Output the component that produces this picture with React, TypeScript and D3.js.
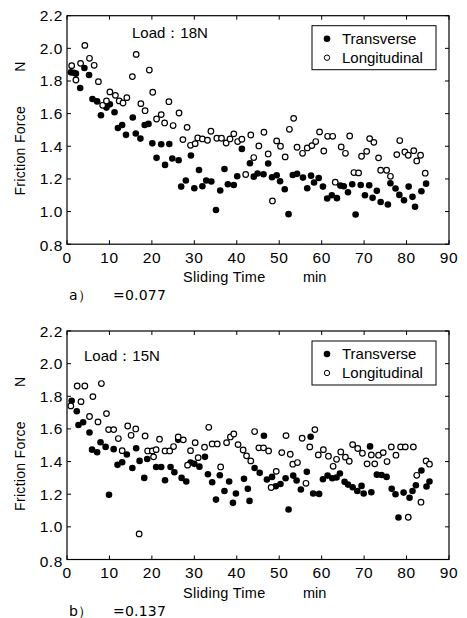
import * as d3 from 'd3';

// Sliding time (min) and friction force (N)
const load18Transverse: [number, number][] = [
  [0.9, 1.853], [1.6, 1.85], [2.1, 1.845], [3.1, 1.757], [4.1, 1.88], [5.2, 1.837], [6.0, 1.69], [7.1, 1.675],
  [8.0, 1.59], [9.3, 1.637], [10.1, 1.657], [11.2, 1.608], [12.0, 1.512], [13.0, 1.53], [13.9, 1.47], [15.5, 1.576],
  [16.2, 1.478], [17.3, 1.447], [18.3, 1.53], [19.2, 1.537], [20.1, 1.418], [21.1, 1.329], [22.2, 1.412], [23.1, 1.286],
  [24.1, 1.414], [24.8, 1.325], [26.3, 1.314], [26.9, 1.153], [28.0, 1.19], [29.2, 1.343], [30.0, 1.143], [31.1, 1.255],
  [31.9, 1.155], [32.8, 1.19], [34.0, 1.184], [35.1, 1.01], [36.1, 1.129], [37.1, 1.261], [37.9, 1.167], [39.3, 1.163],
  [40.1, 1.216], [41.2, 1.384], [43.1, 1.296], [44.0, 1.214], [44.9, 1.233], [46.3, 1.229], [47.4, 1.294], [48.3, 1.21],
  [49.4, 1.222], [50.2, 1.186], [51.3, 1.137], [52.2, 0.984], [53.2, 1.224], [54.2, 1.231], [55.6, 1.208], [56.6, 1.143],
  [57.5, 1.22], [58.2, 1.178], [59.3, 1.206], [60.3, 1.153], [61.3, 1.08], [62.4, 1.1], [63.6, 1.082], [64.4, 1.159],
  [65.2, 1.155], [66.2, 1.118], [67.2, 1.167], [68.0, 0.982], [69.2, 1.163], [70.2, 1.1], [71.2, 1.161], [72.0, 1.084],
  [73.0, 1.127], [73.9, 1.059], [75.6, 1.043], [76.2, 1.173], [77.4, 1.141], [78.3, 1.102], [79.4, 1.069], [80.5, 1.153],
  [81.4, 1.09], [82.0, 1.029], [83.5, 1.124], [84.6, 1.171],
];

const load18Longitudinal: [number, number][] = [
  [1.1, 1.894], [2.1, 1.806], [3.2, 1.908], [4.2, 2.018], [5.3, 1.939], [6.4, 1.896], [7.4, 1.796], [8.4, 1.651],
  [9.3, 1.678], [10.1, 1.733], [11.4, 1.712], [12.3, 1.678], [13.2, 1.665], [14.1, 1.698], [15.4, 1.827], [16.3, 1.963],
  [17.4, 1.661], [18.4, 1.618], [19.4, 1.867], [20.2, 1.731], [21.1, 1.567], [22.2, 1.594], [23.0, 1.543], [24.0, 1.673],
  [25.0, 1.527], [26.4, 1.604], [27.3, 1.441], [28.3, 1.516], [29.1, 1.406], [30.2, 1.416], [30.8, 1.451], [31.9, 1.445],
  [33.1, 1.437], [33.9, 1.492], [35.3, 1.449], [36.4, 1.449], [37.5, 1.42], [38.4, 1.445], [39.3, 1.476], [40.2, 1.429],
  [41.2, 1.443], [42.1, 1.227], [43.3, 1.469], [44.0, 1.331], [45.2, 1.402], [46.4, 1.486], [47.4, 1.353], [48.4, 1.065],
  [49.4, 1.433], [50.3, 1.4], [51.4, 1.335], [52.4, 1.504], [53.4, 1.571], [54.2, 1.394], [55.5, 1.357], [56.6, 1.39],
  [57.7, 1.404], [58.6, 1.429], [59.5, 1.488], [60.5, 1.371], [61.4, 1.461], [62.6, 1.461], [63.2, 1.18], [64.6, 1.396],
  [65.6, 1.357], [66.6, 1.463], [67.6, 1.239], [68.7, 1.237], [69.4, 1.339], [70.6, 1.369], [71.3, 1.447], [72.3, 1.424],
  [73.4, 1.329], [73.9, 1.253], [75.3, 1.253], [76.2, 1.216], [77.7, 1.349], [78.4, 1.435], [79.6, 1.365], [80.4, 1.345],
  [81.7, 1.373], [82.4, 1.31], [83.3, 1.345], [84.4, 1.235],
];

const load15Transverse: [number, number][] = [
  [1.1, 1.773], [2.3, 1.708], [2.7, 1.624], [3.8, 1.641], [5.3, 1.578], [5.9, 1.473], [7.1, 1.457], [7.9, 1.518],
  [9.1, 1.49], [9.9, 1.196], [11.0, 1.476], [11.9, 1.38], [13.0, 1.396], [14.1, 1.443], [15.4, 1.361], [16.3, 1.482],
  [17.1, 1.404], [18.2, 1.3], [18.9, 1.416], [20.1, 1.465], [21.0, 1.367], [22.2, 1.367], [23.1, 1.286], [24.4, 1.367],
  [25.3, 1.335], [26.2, 1.533], [27.0, 1.3], [28.1, 1.278], [29.1, 1.394], [30.0, 1.386], [31.2, 1.369], [32.5, 1.429],
  [33.2, 1.322], [34.2, 1.273], [35.1, 1.167], [36.0, 1.316], [37.1, 1.22], [38.2, 1.278], [39.1, 1.147], [39.8, 1.204],
  [41.7, 1.294], [42.6, 1.233], [43.0, 1.159], [44.2, 1.361], [45.4, 1.331], [46.4, 1.558], [47.1, 1.29], [48.3, 1.306],
  [49.2, 1.249], [50.3, 1.263], [51.5, 1.298], [52.2, 1.106], [53.3, 1.314], [54.1, 1.284], [55.1, 1.229], [56.5, 1.337],
  [57.4, 1.552], [58.0, 1.204], [59.4, 1.202], [60.3, 1.292], [61.4, 1.314], [62.5, 1.298], [63.5, 1.302], [64.3, 1.327],
  [65.4, 1.276], [66.2, 1.259], [67.3, 1.243], [68.4, 1.22], [69.4, 1.251], [69.9, 1.204], [71.4, 1.493], [71.7, 1.212],
  [73.0, 1.32], [74.1, 1.318], [75.3, 1.306], [76.5, 1.233], [77.4, 1.2], [78.1, 1.057], [79.3, 1.21], [80.7, 1.178],
  [81.4, 1.22], [82.2, 1.255], [83.5, 1.345], [84.7, 1.247], [85.4, 1.278],
];

const load15Longitudinal: [number, number][] = [
  [0.9, 1.741], [2.4, 1.863], [3.3, 1.767], [4.2, 1.863], [5.3, 1.676], [6.1, 1.798], [7.3, 1.643], [8.1, 1.878],
  [9.3, 1.694], [9.8, 1.596], [11.0, 1.596], [12.1, 1.541], [13.0, 1.467], [14.3, 1.618], [15.1, 1.561], [16.2, 1.6],
  [17.0, 0.957], [18.4, 1.557], [19.0, 1.465], [20.1, 1.465], [20.4, 1.429], [21.0, 1.473], [21.8, 1.537], [23.1, 1.465],
  [24.2, 1.465], [25.1, 1.492], [26.2, 1.551], [27.4, 1.533], [28.4, 1.378], [29.1, 1.467], [30.2, 1.516], [30.9, 1.424],
  [32.4, 1.488], [33.4, 1.61], [34.2, 1.508], [35.4, 1.508], [36.2, 1.367], [37.6, 1.516], [38.5, 1.551], [39.3, 1.569],
  [40.3, 1.504], [41.5, 1.471], [42.3, 1.435], [43.3, 1.404], [44.2, 1.584], [45.2, 1.484], [46.3, 1.484], [47.5, 1.465],
  [48.1, 1.241], [49.3, 1.34], [50.6, 1.455], [51.6, 1.559], [52.6, 1.445], [53.2, 1.384], [54.3, 1.394], [55.4, 1.543],
  [56.3, 1.267], [57.2, 1.49], [58.4, 1.596], [59.2, 1.441], [60.4, 1.473], [61.6, 1.433], [62.7, 1.371], [63.5, 1.414],
  [64.5, 1.459], [65.6, 1.427], [66.5, 1.402], [67.3, 1.504], [68.5, 1.48], [69.6, 1.451], [70.7, 1.386], [71.7, 1.441],
  [72.5, 1.386], [73.4, 1.439], [74.5, 1.455], [75.4, 1.4], [76.4, 1.49], [77.5, 1.439], [78.6, 1.49], [79.7, 1.49],
  [80.4, 1.059], [81.6, 1.49], [82.4, 1.316], [83.4, 1.151], [84.6, 1.404], [85.4, 1.384],
];

const xTicks = [0, 10, 20, 30, 40, 50, 60, 70, 80, 90];
const yTicks = [0.8, 1.0, 1.2, 1.4, 1.6, 1.8, 2.0, 2.2];
const seriesNames = ['Transverse', 'Longitudinal'];

const FONT = '"Liberation Sans", Arial, sans-serif';
const W = 467;
const H = 618;
const left = 67;
const right = 449;
const plotH = 228.5;
const R = 3.3;

type PanelProps = {
  top: number;
  filled: [number, number][];
  open: [number, number][];
  load: string;
  loadPos: [number, number];
  tag: string;
  coef: string;
};

const Panel = ({ top, filled, open, load, loadPos, tag, coef }: PanelProps) => {
  const bottom = top + plotH;
  const x = d3.scaleLinear().domain([0, 90]).range([left, right]);
  const y = d3.scaleLinear().domain([0.8, 2.2]).range([bottom, top]);
  const tk = 4;
  const legX = 312;
  const legY = top + 10;

  return (
    <g fontFamily={FONT} fill="#000">
      {/* ticks, inward on all sides */}
      {xTicks.map(t => (
        <g key={'xt' + t}>
          <line x1={x(t)} x2={x(t)} y1={bottom} y2={bottom - tk} stroke="#000" />
          <line x1={x(t)} x2={x(t)} y1={top} y2={top + tk} stroke="#000" />
          <text x={x(t)} y={bottom + 18.5} fontSize={15.5} textAnchor="middle" letterSpacing={0.6}>{t}</text>
        </g>
      ))}
      {yTicks.map(t => (
        <g key={'yt' + t}>
          <line x1={left} x2={left + tk} y1={y(t)} y2={y(t)} stroke="#000" />
          <line x1={right} x2={right - tk} y1={y(t)} y2={y(t)} stroke="#000" />
          <text x={left - 4} y={y(t) + (t === 0.8 ? 7 : 5.5)} fontSize={15.5} textAnchor="end" letterSpacing={0.6}>{t.toFixed(1)}</text>
        </g>
      ))}

      {filled.map(([t, f], i) => (
        <circle key={'f' + i} cx={x(t)} cy={y(f)} r={R} fill="#000" />
      ))}
      {open.map(([t, f], i) => (
        <circle key={'o' + i} cx={x(t)} cy={y(f)} r={R - 0.5} fill="#fff" stroke="#000" strokeWidth={1.2} />
      ))}

      <rect x={left} y={top} width={right - left} height={plotH} fill="none" stroke="#000" strokeWidth={1.2} />

      <text x={loadPos[0]} y={loadPos[1]} fontSize={15}>{load}</text>

      {/* legend */}
      <rect x={legX} y={legY} width={124} height={44} fill="#fff" stroke="#000" strokeWidth={1} />
      <circle cx={legX + 15} cy={legY + 13} r={R} fill="#000" />
      <circle cx={legX + 15} cy={legY + 32} r={R - 0.6} fill="#fff" stroke="#000" strokeWidth={1} />
      <text x={legX + 30} y={legY + 18} fontSize={15}>{seriesNames[0]}</text>
      <text x={legX + 30} y={legY + 37} fontSize={15}>{seriesNames[1]}</text>

      {/* axis labels */}
      <text transform={`translate(25, ${top + 51}) rotate(-90)`} fontSize={14} textAnchor="middle">N</text>
      <text transform={`translate(25, ${top + 135}) rotate(-90)`} fontSize={14} textAnchor="middle" letterSpacing={0.3}>Friction Force</text>
      <text x={183} y={bottom + 38} fontSize={14.5} letterSpacing={0.3}>Sliding Time</text>
      <text x={303} y={bottom + 38} fontSize={14.5}>min</text>

      <text x={69} y={bottom + 56} fontSize={14} fontFamily='"DejaVu Sans", sans-serif'>{tag}</text>
      <text x={113} y={bottom + 56} fontSize={14} fontFamily='"DejaVu Sans", sans-serif' letterSpacing={0.2}>{coef}</text>
    </g>
  );
};

export default function App() {
  return (
    <svg width={W} height={H} style={{ position: 'absolute', left: 0, top: 0, background: '#fff' }}>
      <rect width={W} height={H} fill="#fff" />
      <Panel
        top={15.7}
        filled={load18Transverse}
        open={load18Longitudinal}
        load="Load：18N"
        loadPos={[132, 38]}
        tag="a）"
        coef="=0.077"
      />
      <Panel
        top={331}
        filled={load15Transverse}
        open={load15Longitudinal}
        load="Load：15N"
        loadPos={[84, 361]}
        tag="b）"
        coef="=0.137"
      />
    </svg>
  );
}
